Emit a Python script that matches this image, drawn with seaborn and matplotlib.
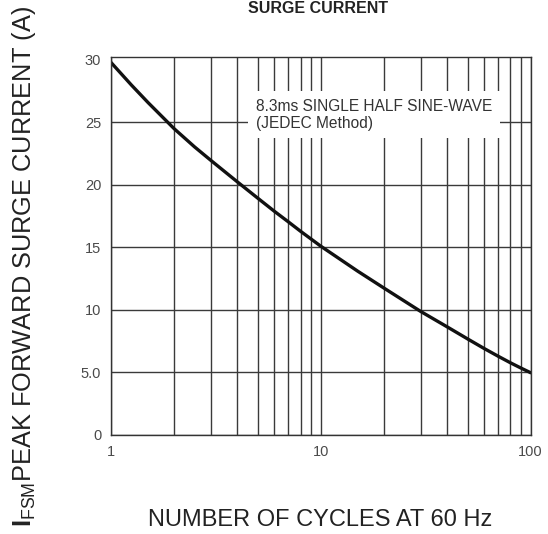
import numpy as np
import pandas as pd
import matplotlib
matplotlib.use("Agg")
import matplotlib.pyplot as plt
import seaborn as sns

# 数据：浪涌电流 vs 周期数
cycles = [1, 1.25, 1.5, 2, 2.5, 3, 4, 5, 6, 7, 8, 10, 15, 20, 30, 40, 50, 60, 70, 80, 90, 100]
current = [29.8, 28.0, 26.6, 24.5, 23.05, 21.95, 20.25, 18.95, 17.9, 17.05, 16.3, 15.1,
           13.1, 11.75, 9.87, 8.65, 7.69, 6.92, 6.3, 5.78, 5.35, 4.98]

y_ticks = [0, 5, 10, 15, 20, 25, 30]
y_tick_labels = ["0", "5.0", "10", "15", "20", "25", "30"]
x_ticks = [1, 10, 100]
x_tick_labels = ["1", "10", "100"]
x_minor = [2, 3, 4, 5, 6, 7, 8, 9, 20, 30, 40, 50, 60, 70, 80, 90]

df = pd.DataFrame({"cycles": cycles, "current": current})

sns.set_theme(style="white")
plt.rcParams["font.family"] = ["Liberation Sans", "DejaVu Sans"]
plt.rcParams["mathtext.fontset"] = "custom"
plt.rcParams["mathtext.rm"] = "Liberation Sans"
plt.rcParams["mathtext.bf"] = "Liberation Sans:bold"

fig = plt.figure(figsize=(5.48, 5.34), dpi=100)
ax = fig.add_axes([0.2026, 0.1854, 0.7658, 0.7079])

sns.lineplot(data=df, x="cycles", y="current", color="#111111", linewidth=2.4, ax=ax)
ax.lines[0].set_solid_capstyle("round")

ax.set_xscale("log")
ax.set_xlim(1, 100)
ax.set_ylim(0, 30.24)

ax.set_xticks(x_ticks)
ax.set_xticklabels(x_tick_labels)
ax.set_xticks(x_minor, minor=True)
ax.set_xticklabels([], minor=True)
ax.set_yticks(y_ticks)
ax.set_yticklabels(y_tick_labels)

grid_kw = dict(color="#3a3a3a", linewidth=1.0)
ax.grid(True, which="major", axis="both", **grid_kw)
ax.grid(True, which="minor", axis="x", **grid_kw)
ax.yaxis.get_gridlines()[-1].set_visible(False)  # 30 那条不画

ax.tick_params(axis="both", which="both", length=0, labelsize=10.5, labelcolor="#4a4a4a", pad=7)
for s in ax.spines.values():
    s.set_color("#333333")
    s.set_linewidth(1.0)

ax.set_xlabel("")
ax.set_ylabel("")

ax.text(0.345, 0.847, "8.3ms SINGLE HALF SINE-WAVE\n(JEDEC Method)", transform=ax.transAxes,
        fontsize=11.2, color="#333333", ha="left", va="center", linespacing=1.12,
        bbox=dict(boxstyle="square,pad=0.5", facecolor="white", edgecolor="none"), zorder=5)

fig.text(0.58, 0.985, "SURGE CURRENT", fontsize=11.5, fontweight="bold", color="#222222",
         ha="center", va="center")
fig.text(0.584, 0.026, "NUMBER OF CYCLES AT 60 Hz", fontsize=17, color="#222222",
         ha="center", va="center")
fig.text(0.043, 1 - 6 / 534, r"$\mathbf{I}_{\mathrm{FSM}}$PEAK FORWARD SURGE CURRENT (A)",
         fontsize=18.3, color="#222222", rotation=90, ha="center", va="top")

plt.savefig("out.png", dpi=100)
